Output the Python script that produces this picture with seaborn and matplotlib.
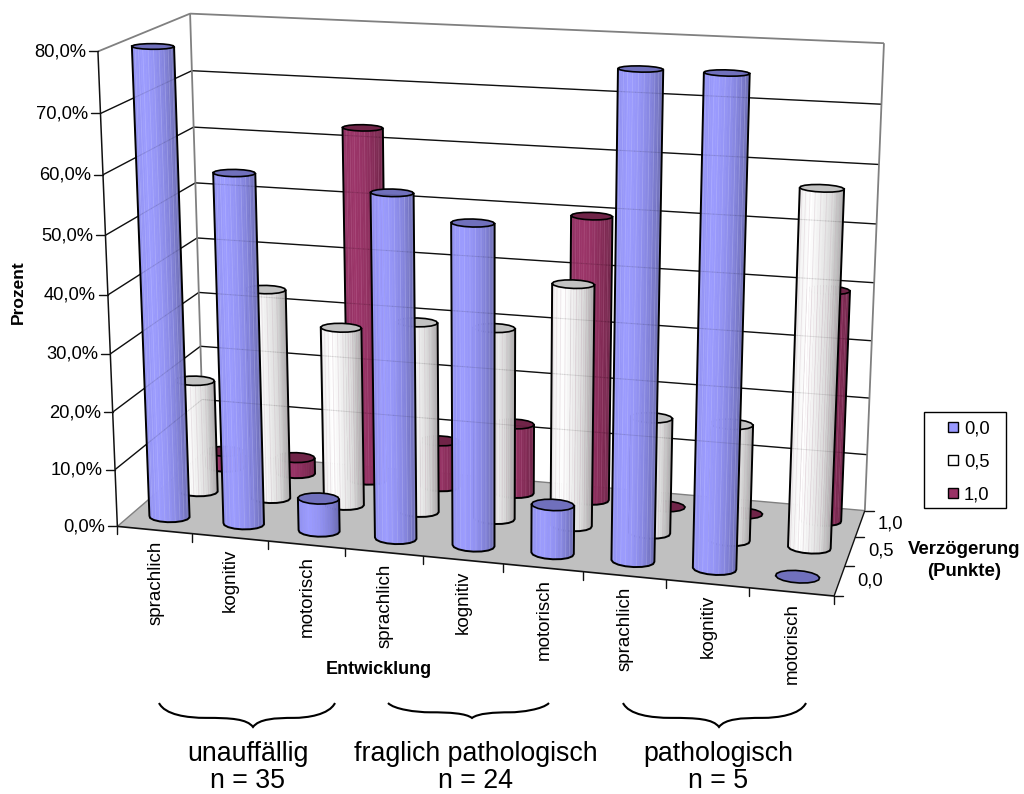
import numpy as np
import matplotlib
matplotlib.use("Agg")
import matplotlib.pyplot as plt
from matplotlib.legend_handler import HandlerPatch
from matplotlib.patches import PathPatch, Patch, Rectangle
from matplotlib.path import Path
from matplotlib.collections import PolyCollection, LineCollection
import seaborn as sns

# Share of children per delay score, in percent
categories = ["sprachlich", "kognitiv", "motorisch"] * 3
delay_labels = ["0,0", "0,5", "1,0"]
values_00 = [80.0, 60.0, 5.7, 58.3, 54.2, 8.3, 80.0, 80.0, 0.0]
values_05 = [20.0, 37.1, 31.4, 33.3, 33.3, 41.7, 20.0, 20.0, 60.0]
values_10 = [2.9, 2.9, 62.9, 8.3, 12.5, 50.0, 0.0, 0.0, 40.0]
percent_ticks = [0, 10, 20, 30, 40, 50, 60, 70, 80]
group_names = ["unauffällig", "fraglich pathologisch", "pathologisch"]
group_counts = ["n = 35", "n = 24", "n = 5"]

sns.set_theme(style="white")
plt.rcParams["font.family"] = ["Liberation Sans", "DejaVu Sans"]
plt.rcParams["text.color"] = "black"

# Camera calibration: box position (category, depth, percent) -> canvas position
calib_world = np.array([
    (0, 0, 0), (0, 0, 80), (0, 0, 70), (0, 0, 60), (0, 0, 50), (0, 0, 20), (0, 0, 10),
    (0, 3, 80), (0, 3, 70), (0, 3, 60), (0, 3, 50), (0, 3, 40), (0, 3, 30), (0, 3, 20), (0, 3, 0),
    (9, 3, 80), (9, 3, 70), (9, 3, 60), (9, 3, 50), (9, 3, 0),
    (9, 0, 0), (1, 0, 0), (2, 0, 0), (3, 0, 0), (4, 0, 0), (5, 0, 0), (6, 0, 0), (7, 0, 0), (8, 0, 0),
    (9, 1, 0), (9, 2, 0)], dtype=float)
calib_canvas = np.array([
    (117, 526), (98, 52), (100, 113), (103, 175), (105.7, 235), (113, 412), (115.5, 469),
    (190, 13), (192, 71), (194, 127), (196, 182), (197, 239), (198, 293), (200, 347), (204, 452),
    (883, 43), (882, 104), (879, 165), (877, 224), (865, 510),
    (833, 597), (192, 533), (267, 541), (345, 549), (423, 556), (503, 564), (583, 572), (666, 580), (750, 588),
    (845, 565), (855, 537)], dtype=float)
world_scale = np.array([9.0, 3.0, 80.0])
canvas_scale = 1000.0


def fit_camera(world, canvas):
    w = world / world_scale
    c = canvas / canvas_scale
    rows = []
    for (a, b, d), (u, v) in zip(w, c):
        rows.append([a, b, d, 1, 0, 0, 0, 0, -u * a, -u * b, -u * d, -u])
        rows.append([0, 0, 0, 0, a, b, d, 1, -v * a, -v * b, -v * d, -v])
    return np.linalg.svd(np.array(rows))[2][-1].reshape(3, 4)


CAMERA = fit_camera(calib_world, calib_canvas)


def project(x, y, z):
    """Map category / depth / percent positions onto the canvas."""
    x, y, z = np.broadcast_arrays(np.asarray(x, float), np.asarray(y, float), np.asarray(z, float))
    h = np.stack([x / 9.0, y / 3.0, z / 80.0, np.ones_like(x, dtype=float)])
    q = CAMERA @ h.reshape(4, -1)
    pts = (q[:2] / q[2]).T * canvas_scale
    return pts if x.ndim else pts[0]


fig = plt.figure(figsize=(10.24, 7.94), dpi=100, facecolor="white")
ax = fig.add_axes([0, 0, 1, 1])
ax.set_xlim(0, 1024)
ax.set_ylim(794, 0)
ax.axis("off")

GREY = "#808080"
INK = "#111111"
FONT = 13.2


def seg(a, b, color=INK, lw=1.0, z=1, alpha=None):
    p = project(*a), project(*b)
    ax.plot([p[0][0], p[1][0]], [p[0][1], p[1][1]], color=color, lw=lw, zorder=z,
            alpha=alpha, solid_capstyle="butt")


# Floor and walls
floor = project([0, 9, 9, 0], [0, 0, 3, 3], [0, 0, 0, 0])
ax.fill(floor[:, 0], floor[:, 1], color="#C0C0C0", lw=0, zorder=0.5)
for p in percent_ticks[1:-1]:
    seg((0, 0, p), (0, 3, p))
    seg((0, 3, p), (9, 3, p))
seg((0, 0, 80), (0, 3, 80), GREY, 1.3)
seg((0, 3, 80), (9, 3, 80), GREY, 1.3)
seg((0, 3, 0), (0, 3, 80), GREY, 1.3)
seg((9, 3, 0), (9, 3, 80), GREY, 1.3)
seg((0, 0, 0), (0, 3, 0), GREY, 1.0)
seg((0, 3, 0), (9, 3, 0), GREY, 1.0)
seg((9, 0, 0), (9, 3, 0), INK, 1.0)
seg((0, 0, 0), (9, 0, 0), INK, 1.2)
seg((0, 0, 0), (0, 0, 80), INK, 1.1)

# Axis ticks and labels
for p in percent_ticks:
    u, v = project(0, 0, p)
    ax.plot([u - 9, u], [v, v], color=INK, lw=1.0, zorder=1)
    ax.text(u - 12, v + 0.5, f"{p},0%", ha="right", va="center", fontsize=FONT)
for i in range(10):
    u, v = project(i, 0, 0)
    ax.plot([u, u], [v, v + 8], color=INK, lw=1.0, zorder=1)
for i, name in enumerate(categories):
    u, v = project(i + 0.5, 0, 0)
    ax.text(u + 1, v + 11, name, rotation=90, ha="center", va="top", fontsize=13.5)
for d in range(4):
    u, v = project(9, d, 0)
    ax.plot([u, u + 9], [v, v], color=INK, lw=1.0, zorder=1)
for d, lab in enumerate(delay_labels):
    u, v = project(9, d + 0.5, 0)
    ax.text(u + 18, v, lab, ha="left", va="center", fontsize=FONT)

ax.text(18, 292, "Prozent", rotation=90, ha="center", va="center", fontsize=12.5, fontweight="bold")
ax.text(378.5, 669, "Entwicklung", ha="center", va="center", fontsize=13, fontweight="bold")
ax.text(964, 549, "Verzögerung", ha="center", va="center", fontsize=13.4, fontweight="bold")
ax.text(964, 572, "(Punkte)", ha="center", va="center", fontsize=13.4, fontweight="bold")

# Cylinder styles, one per delay score
SIDE_STOPS = [
    ["#9090F0", "#9C9CFF", "#9494F4", "#8484DC", "#6A6AB0"],
    ["#F0F0F0", "#FFFFFF", "#EFEFEF", "#DADADA", "#A8A8A8"],
    ["#8E2F60", "#9C3569", "#963365", "#862C58", "#6E2448"],
]
TOPS = ["#7070BC", "#C2C2C2", "#702448"]
STREAKS = ["#C8C8FF", "#C8B0BC", "#C26A98"]
N_FACETS = 48
N_RIM = 16
RX, RY = 0.262, 0.2
SHADES = [sns.blend_palette(stops, n_colors=64) for stops in SIDE_STOPS]

# Cross-section of a cylinder: a coarse polygon sampled finely for shading
rim_angle = np.linspace(0, 2 * np.pi, N_RIM + 1) + np.pi / N_RIM
fine_angle = np.linspace(rim_angle[0], rim_angle[-1], N_FACETS + 1)
rim_x = np.interp(fine_angle, rim_angle, np.cos(rim_angle))
rim_y = np.interp(fine_angle, rim_angle, np.sin(rim_angle))


def cylinder(cat, depth, value, style, z):
    cx = cat + 0.5 + RX * rim_x
    cy = depth + 0.5 + RY * rim_y
    bottom = project(cx, cy, np.zeros_like(cx))
    top = project(cx, cy, np.full_like(cx, value))
    if value > 0:
        ref = project(cx, cy, np.full_like(cx, max(value, 3.0)))
        a, b, d = bottom[:-1], bottom[1:], ref[:-1]
        area = ((b - a)[:, 0] * (d - a)[:, 1] - (b - a)[:, 1] * (d - a)[:, 0])
        mid = fine_angle[:-1] + np.pi / N_FACETS
        front = np.argmin(np.abs(np.angle(np.exp(1j * (mid + np.pi / 2)))))
        vis = np.where(np.sign(area) == np.sign(area[front]))[0]
        vis = vis[np.argsort(bottom[vis, 0])]
        left, right = bottom[vis, 0].min(), bottom[vis + 1, 0].max()
        polys, colors, streaks = [], [], []
        for k, i in enumerate(vis):
            polys.append([bottom[i], bottom[i + 1], top[i + 1], top[i]])
            t = (0.5 * (bottom[i, 0] + bottom[i + 1, 0]) - left) / (right - left)
            colors.append(SHADES[style][int(np.clip(t, 0, 1) * 63)])
            if k % 2 == 1 and value > 8:
                streaks.append([bottom[i], top[i]])
        ax.add_collection(PolyCollection(polys, facecolors=colors, edgecolors=colors, linewidths=0.4, zorder=z))
        if streaks:
            ax.add_collection(LineCollection(streaks, colors=STREAKS[style], linewidths=0.6, alpha=0.3, zorder=z + 0.01))
        # Silhouette and lower rim
        rim = np.array(sorted({tuple(bottom[i]) for i in vis} | {tuple(bottom[i + 1]) for i in vis}))
        first = top[np.argmin(np.abs(bottom[:, 0] - rim[0, 0]))]
        last = top[np.argmin(np.abs(bottom[:, 0] - rim[-1, 0]))]
        outline = np.vstack([first, rim, last])
        ax.plot(outline[:, 0], outline[:, 1], color="black", lw=1.4, zorder=z + 0.02, solid_joinstyle="round")
    ax.fill(top[:, 0], top[:, 1], facecolor=TOPS[style], edgecolor="black", lw=1.2, zorder=z + 0.03)


# Rows are painted from the back of the box to the front
for depth, series in [(2, values_10), (1, values_05), (0, values_00)]:
    for cat, value in enumerate(series):
        cylinder(cat, depth, value, depth, 3 + (2 - depth) + cat * 0.05)

# The walls' grid shows faintly through the cylinders
for p in percent_ticks[1:-1]:
    seg((0, 3, p), (9, 3, p), "#000000", 0.7, z=9, alpha=0.10)
    seg((0, 0, p), (0, 3, p), "#000000", 0.7, z=9, alpha=0.10)

# Legend: frame plus entries with small square keys
ax.add_patch(Rectangle((924, 412), 82, 96, facecolor="white", edgecolor="black", lw=1.0, zorder=11))


def square_key(legend, orig_handle, xdescent, ydescent, width, height, fontsize):
    side = 7.2
    return Rectangle((width - side - xdescent, (height - side) / 2 - ydescent), side, side)


handles = [Patch(facecolor=c, edgecolor="black", linewidth=1.0) for c in ("#9999FF", "#FFFFFF", "#993366")]
leg = ax.legend(handles, delay_labels, loc="upper left", bbox_to_anchor=(942, 420), bbox_transform=ax.transData,
                borderaxespad=0, borderpad=0, frameon=False, fontsize=FONT, labelcolor="black",
                handlelength=0.87, handletextpad=0.33, labelspacing=0.88,
                handler_map={Patch: HandlerPatch(patch_func=square_key)})
leg.set_zorder(12)


def brace(x0, xt, x1, ytop, ytip):
    ym = ytop + 0.62 * (ytip - ytop)
    verts = [(x0, ytop),
             (x0 + 6, ym - 3), (x0 + 28, ym), ((x0 + xt) / 2, ym),
             (xt - 22, ym), (xt - 6, ym + 1), (xt, ytip),
             (xt + 6, ym + 1), (xt + 22, ym), ((x1 + xt) / 2, ym),
             (x1 - 28, ym), (x1 - 6, ym - 3), (x1, ytop)]
    codes = [Path.MOVETO] + [Path.CURVE4] * 12
    ax.add_patch(PathPatch(Path(verts, codes), fill=False, edgecolor="black", lw=1.5, zorder=2))


brace_spans = [(159, 253, 335, 703, 727), (388, 472, 549, 703, 718), (623, 719, 806, 703, 727)]
name_x = [248, 476, 718]
for span, name, count, x in zip(brace_spans, group_names, group_counts, name_x):
    brace(*span)
    ax.text(x, 754, name, ha="center", va="center", fontsize=19.3)
    ax.text(x, 788, count, ha="center", va="baseline", fontsize=19.3)

fig.savefig("out.png", dpi=100, facecolor="white")
